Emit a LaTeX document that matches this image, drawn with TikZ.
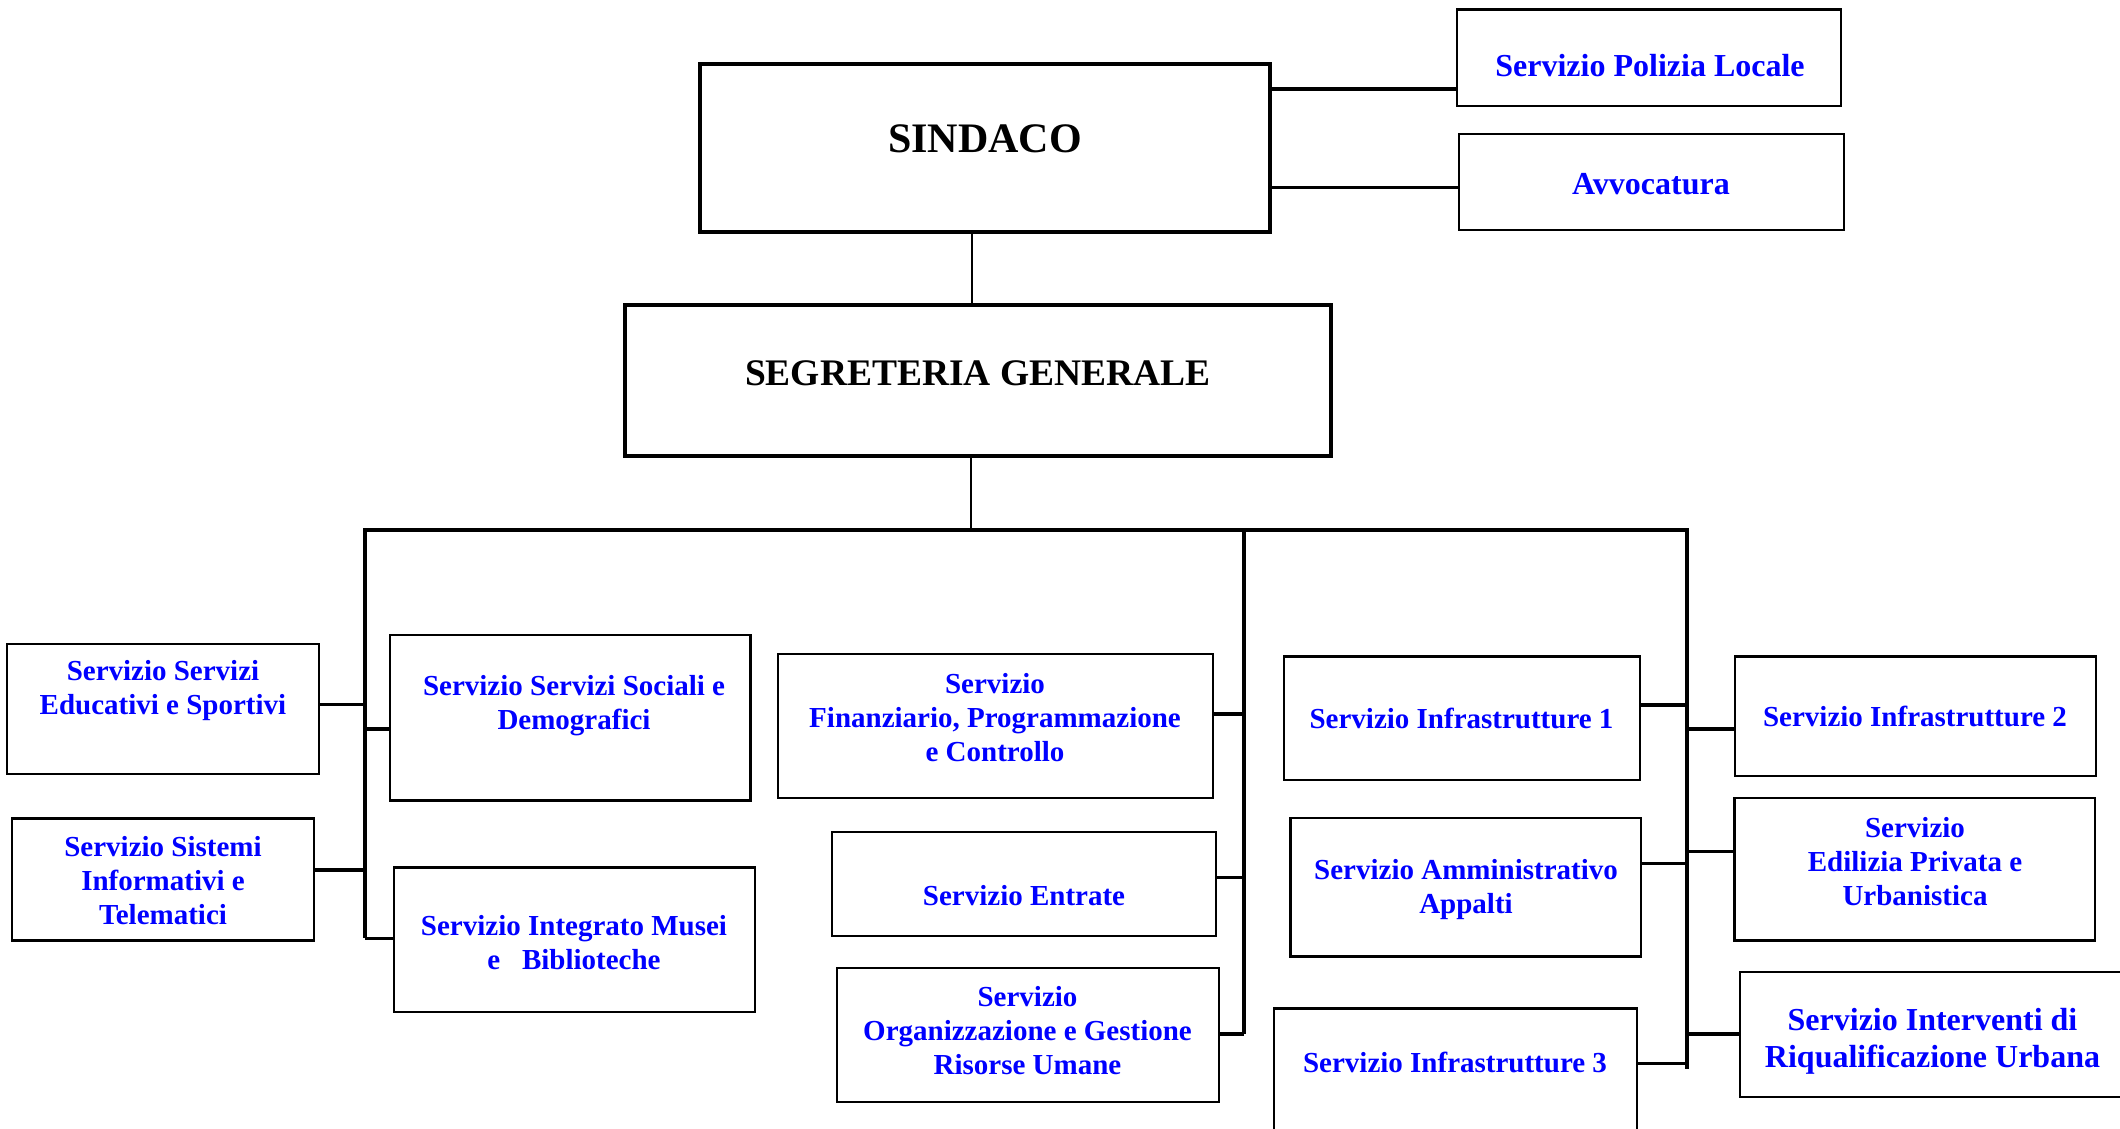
\documentclass[tikz,border=0pt]{standalone}
\usepackage{fontspec}
\setmainfont{Liberation Serif}
\definecolor{svcblue}{RGB}{0,0,255}
\tikzset{
  box/.style={draw=black, line width=2.5pt, rectangle, inner sep=0pt},
  headbox/.style={draw=black, line width=3.6pt, rectangle, inner sep=0pt},
  svc/.style={font=\bfseries\fontsize{29}{34}\selectfont, text=svcblue, align=center, inner sep=0pt},
  svcbig/.style={font=\bfseries\fontsize{32}{37}\selectfont, text=svcblue, align=center, inner sep=0pt},
  head/.style={text=black, align=center, inner sep=0pt},
  conn/.style={line width=3.6pt},
  trunk/.style={line width=3.3pt},
  stem/.style={line width=2pt},
}
\begin{document}
\begin{tikzpicture}[x=1pt,y=-1pt]
\useasboundingbox (0,0) rectangle (2120,1128);
\clip (0,0) rectangle (2120,1128);
\fill[white] (0,0) rectangle (2120,1128);

% ---- boxes
\node[headbox, minimum width=570pt, minimum height=168pt] (sindaco) at (985,148) {};
\node[headbox, minimum width=706pt, minimum height=151pt] (segr) at (978,380.5) {};
\node[box, minimum width=384pt, minimum height=96.4pt] (pol) at (1649,57.8) {};
\node[box, minimum width=385pt, minimum height=96pt] (avv) at (1651.5,182) {};

\node[box, minimum width=312pt, minimum height=130pt] (educ) at (163,709) {};
\node[box, minimum width=302pt, minimum height=122pt] (sist) at (163,879.5) {};
\node[box, minimum width=360.5pt, minimum height=165.6pt] (soc) at (570.25,717.8) {};
\node[box, minimum width=361pt, minimum height=144.4pt] (musei) at (574.5,939.8) {};

\node[box, minimum width=435pt, minimum height=144pt] (fin) at (995.5,726) {};
\node[box, minimum width=384pt, minimum height=104pt] (entr) at (1024,884) {};
\node[box, minimum width=382pt, minimum height=134pt] (org) at (1028,1035) {};

\node[box, minimum width=356pt, minimum height=123.4pt] (inf1) at (1462,718.3) {};
\node[box, minimum width=350.5pt, minimum height=138.5pt] (amm) at (1465.75,887.25) {};
\node[box, minimum width=363pt, minimum height=151.4pt] (inf3) at (1455.5,1084.3) {};

\node[box, minimum width=361pt, minimum height=119.4pt] (inf2) at (1915.5,716.3) {};
\node[box, minimum width=360.5pt, minimum height=142.5pt] (edil) at (1914.75,869.25) {};
\node[box, minimum width=400pt, minimum height=125pt] (interv) at (1940,1034.25) {};

% ---- texts
\node[head, font=\bfseries\fontsize{42}{48}\selectfont] (sinT) at (985,139) {SINDACO};
\node[head, font=\bfseries\fontsize{37.5}{43}\selectfont] (segT) at (978,373.2) {SEGRETERIA GENERALE};
\node[svcbig] (polT) at (1650,65.2) {Servizio Polizia Locale};
\node[svcbig] (avvT) at (1651,184.5) {Avvocatura};

\node[svc] (educT) at (163,690.3) {Servizio Servizi\\Educativi e Sportivi};
\node[svc] (sistT) at (163,880.5) {Servizio Sistemi\\Informativi e\\Telematici};
\node[svc] (socT) at (574,705.2) {Servizio Servizi Sociali e\\Demografici};
\node[svc] (musT) at (574,942.8) {Servizio Integrato Musei\\e~~~Biblioteche};

\node[svc] (finT) at (995,717.2) {Servizio\\Finanziario, Programmazione\\e Controllo};
\node[svc] (entT) at (1024,895.5) {Servizio Entrate};
\node[svc] (orgT) at (1027.5,1030.2) {Servizio\\Organizzazione e Gestione\\Risorse Umane};

\node[svc] (inf1T) at (1461.5,718.6) {Servizio Infrastrutture 1};
\node[svc] (ammT) at (1466,889.4) {Servizio Amministrativo\\Appalti};
\node[svc] (inf3T) at (1455,1062.1) {Servizio Infrastrutture 3};

\node[svc] (inf2T) at (1915,716.6) {Servizio Infrastrutture 2};
\node[svc] (edilT) at (1915,861.5) {Servizio\\Edilizia Privata e\\Urbanistica};
\node[svcbig] (intT) at (1932.5,1041) {Servizio Interventi di\\Riqualificazione Urbana};

% ---- junction coordinates
\coordinate (jPol) at (1270,89);
\coordinate (jAvv) at (1270,187.5);
\coordinate (busTap) at (971,530);
\coordinate (busL) at (365,530);
\coordinate (busM) at (1244,530);
\coordinate (busR) at (1687,530);
\coordinate (lowL) at (365,938.4);
\coordinate (lowM) at (1244,1034);
\coordinate (lowR) at (1687,1069);

\coordinate (jEduc) at (365,704.5);
\coordinate (jSist) at (365,870);
\coordinate (jSoc) at (365,728.7);
\coordinate (jMus) at (365,938.4);
\coordinate (jFin) at (1244,714);
\coordinate (jEnt) at (1244,877.6);
\coordinate (jOrg) at (1244,1034);
\coordinate (jInf1) at (1687,705);
\coordinate (jAmm) at (1687,863.6);
\coordinate (jInf3) at (1687,1063.5);
\coordinate (jInf2) at (1687,728.7);
\coordinate (jEdil) at (1687,851.6);
\coordinate (jInt) at (1687,1034);

% ---- connectors
\draw[conn] (jPol) -- (jPol -| pol.west);
\draw[conn] (jAvv) -- (jAvv -| avv.west);
\draw[stem] ([xshift=-13pt]sindaco.south) -- ([xshift=-6pt]segr.north);
\draw[stem] ([xshift=-7pt]segr.south) -- (busTap);
\draw[conn] (busL) -- (busR);
\draw[trunk] ([yshift=1.6pt]busL) -- (lowL);
\draw[trunk] ([yshift=1.6pt]busM) -- (lowM);
\draw[trunk] ([yshift=1.6pt]busR) -- (lowR);

\draw[conn] (jEduc) -- (jEduc -| educ.east);
\draw[conn] (jSist) -- (jSist -| sist.east);
\draw[conn] (jSoc) -- (jSoc -| soc.west);
\draw[conn] (jMus) -- (jMus -| musei.west);
\draw[conn] (jFin) -- (jFin -| fin.east);
\draw[conn] (jEnt) -- (jEnt -| entr.east);
\draw[conn] (jOrg) -- (jOrg -| org.east);
\draw[conn] (jInf1) -- (jInf1 -| inf1.east);
\draw[conn] (jAmm) -- (jAmm -| amm.east);
\draw[conn] (jInf3) -- (jInf3 -| inf3.east);
\draw[conn] (jInf2) -- (jInf2 -| inf2.west);
\draw[conn] (jEdil) -- (jEdil -| edil.west);
\draw[conn] (jInt) -- (jInt -| interv.west);
\end{tikzpicture}
\end{document}
